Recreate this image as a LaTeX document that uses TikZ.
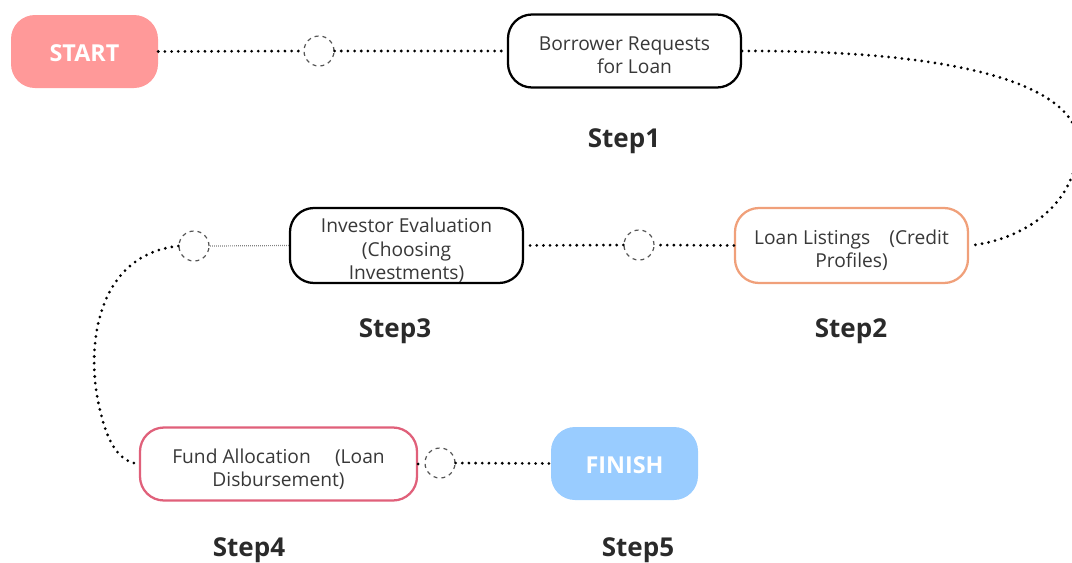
\documentclass[tikz,border=0pt]{standalone}
\usepackage{fontspec}
\setmainfont{Open Sans}
\definecolor{startfill}{HTML}{FF9999}
\definecolor{finishfill}{HTML}{99CCFF}
\definecolor{orangeb}{HTML}{F0A07A}
\definecolor{pinkb}{HTML}{E0607A}
\definecolor{txt}{HTML}{383838}
\definecolor{steptxt}{HTML}{2A2A2A}
\definecolor{circ}{HTML}{555555}
\newcommand{\lowtext}[1]{\raisebox{-4.5pt}[\height][\depth]{\begin{tabular}{@{}c@{}}#1\end{tabular}}}
\newcommand{\lowword}[1]{\raisebox{-1.5pt}[\height][\depth]{#1}}
\tikzset{
  x=0.75pt, y=-0.75pt,
  pill/.style={rounded corners=18pt, minimum width=#1*0.75pt, minimum height=73*0.75pt, inner sep=0pt},
  endbox/.style={pill=147, text=white, font=\bfseries\fontsize{17.5}{20}\selectfont},
  stepbox/.style={pill=233, line width=1.7pt, draw, fill=white, text=txt, align=center, font=\fontsize{14.4}{17.5}\selectfont},
  steplabel/.style={text=steptxt, font=\bfseries\fontsize{19.5}{22}\selectfont},
  hole/.style={circle, draw=circ, dashed, line width=0.9pt, minimum size=22.5pt, inner sep=0pt, fill=white},
  dots/.style={line width=2.3pt, line cap=round, dash pattern=on 0pt off 5pt},
  thindots/.style={line width=0.9pt, draw=gray, dash pattern=on 0.6pt off 0.9pt},
}
\begin{document}
\begin{tikzpicture}
\useasboundingbox (0,0) rectangle (1072,562);
\begin{scope}
\clip (0,0) rectangle (1072,562);
\node[endbox, fill=startfill] (start) at (84.5,51.5) {\lowword{START}};
\node[hole] (c1) at (319,51) {};
\node[stepbox] (s1) at (624.5,51) {\lowtext{Borrower Requests\\ \hspace*{15pt}for Loan}};
\node[steplabel] (l1) at (624,141) {Step1};
\node[stepbox, draw=orangeb, minimum width=233*0.75pt, minimum height=75*0.75pt] (s2) at (851.5,245.5) {\lowtext{Loan Listings\quad(Credit\\Profiles)}};
\node[steplabel] (l2) at (851,331) {Step2};
\node[hole] (c2) at (639,245) {};
\node[stepbox, minimum height=75*0.75pt] (s3) at (406.5,245.5) {\lowtext{Investor Evaluation\\(Choosing\\Investments)}};
\node[steplabel] (l3) at (395,331) {Step3};
\node[hole] (c3) at (194,246) {};
\node[stepbox, pill=277, draw=pinkb] (s4) at (278.5,464) {\lowtext{Fund Allocation\quad\ (Loan\\Disbursement)}};
\node[steplabel] (l4) at (249,550) {Step4};
\node[hole] (c4) at (440,463) {};
\node[endbox, fill=finishfill] (finish) at (624.5,463.5) {\lowword{FINISH}};
\node[steplabel] (l5) at (638,550) {Step5};

\draw[dots] (start.east) -- (c1.west);
\draw[dots] (c1.east) -- (s1.west);
\draw[dots] (s1.east) .. controls (960,50) and (1085,85) .. (1078,150) .. controls (1072,215) and (1010,242) .. (s2.east);
\draw[dots] (s2.west) -- (c2.east);
\draw[dots] (c2.west) -- (s3.east);
\draw[thindots] (s3.west) -- (c3.east);
\draw[dots] (c3.west) .. controls (95,255) and (85,350) .. (100,410) .. controls (108,445) and (120,462) .. (s4.west);
\draw[dots] (s4.east) -- (c4.west);
\draw[dots] (c4.east) -- (finish.west);
\end{scope}
\end{tikzpicture}
\end{document}
